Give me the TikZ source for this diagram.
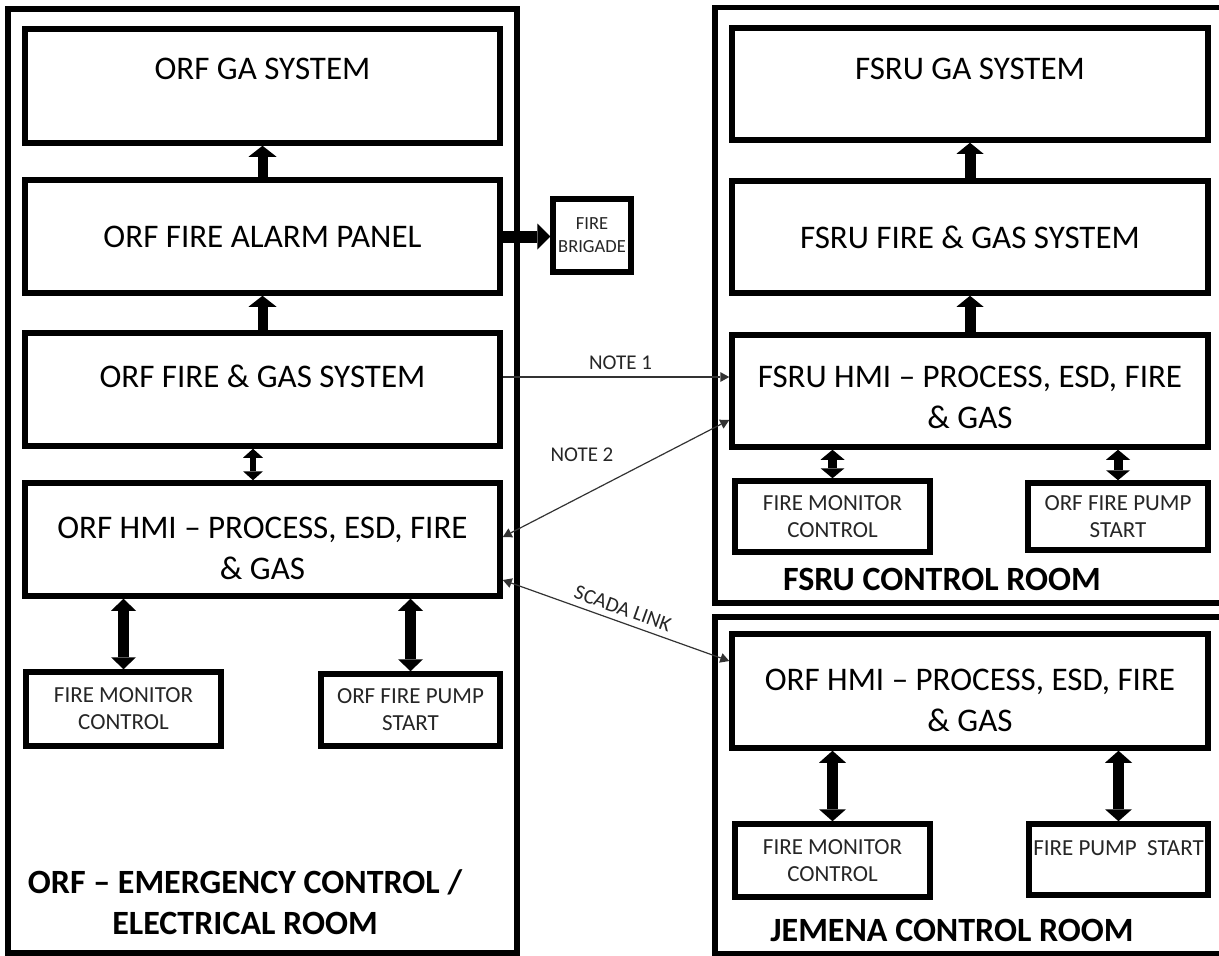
\documentclass[tikz,border=0pt]{standalone}
\usepackage{fontspec}
\setmainfont{Carlito}
\usetikzlibrary{arrows.meta,calc}
\begin{document}
\begin{tikzpicture}[x=1pt,y=-1pt,
  wh/.style 2 args={minimum width=#1pt, minimum height=#2pt},
  roombox/.style={draw, line width=5.5pt, inner sep=0pt},
  sysbox/.style={draw, line width=5.5pt, inner sep=0pt, align=center, font=\fontsize{33}{41}\selectfont},
  smallbox/.style={draw, line width=5.5pt, inner sep=0pt, align=center, text=black!85, font=\fontsize{23}{27}\selectfont},
  fbbox/.style={draw, line width=5.5pt, inner sep=0pt, align=center, text=black!85, font=\fontsize{18.5}{23}\selectfont},
  liftup/.style={text height=21.3pt, text depth=#1},
  liftsmall/.style={text height=14.8pt, text depth=#1},
  titletext/.style={inner sep=0pt, align=center, font=\fontsize{34}{41}\selectfont\bfseries},
  notetext/.style={inner sep=0pt, text=black!85, font=\fontsize{21}{25}\selectfont},
  blockup/.style n args={3}{line width=#1pt, -{Triangle[width=#2pt 0, length=#3pt 0, line width=0pt]}},
  blockdbl/.style n args={3}{line width=#1pt, {Triangle[width=#2pt 0, length=#3pt 0, line width=0pt]}-{Triangle[width=#2pt 0, length=#3pt 0, line width=0pt]}},
  thinlink/.style={line width=1.2pt, draw=black!80, >={Triangle[width=10pt 0, length=9pt 0, line width=0pt]}}
]
\clip (0,0) rectangle (1219,956);
\fill[white] (0,0) rectangle (1219,956);

% rooms
\node[roombox, wh={509}{944}] (roomL) at (262.5,481) {};
\node[roombox, wh={525}{595.5}] (roomF) at (977.5,305.25) {};
\node[roombox, wh={525}{337}] (roomJ) at (977.5,785.5) {};

% left column
\node[sysbox, wh={475}{114}, liftup=34pt] (gaL) at (262.5,86) {ORF GA SYSTEM};
\node[sysbox, wh={475}{113}] (fapL) at (262.5,236.5) {ORF FIRE ALARM PANEL};
\node[sysbox, wh={475}{113}, liftup=25pt] (fgL) at (262.5,389.5) {ORF FIRE \& GAS SYSTEM};
\node[sysbox, wh={475}{113}] (hmiL) at (262.5,539.5) {\rule{0pt}{40pt}ORF HMI – PROCESS, ESD, FIRE\\\& GAS};
\node[smallbox, wh={195}{74}] (fmcL) at (123.5,709) {FIRE MONITOR\\CONTROL};
\node[smallbox, wh={179}{72}] (fpsL) at (410.5,710) {ORF FIRE PUMP\\START};
\node[titletext] (titleL) at (245,902) {ORF – EMERGENCY CONTROL /\\ELECTRICAL ROOM};

\node[fbbox, wh={78}{73}] (fb) at (592,235.5) {FIRE\\BRIGADE};

% FSRU column
\node[sysbox, wh={476}{112}, liftup=30pt] (gaF) at (970,84) {FSRU GA SYSTEM};
\node[sysbox, wh={476}{112}] (fgF) at (970,237) {FSRU FIRE \& GAS SYSTEM};
\node[sysbox, wh={476}{112}] (hmiF) at (970,391) {\rule{0pt}{35pt}FSRU HMI – PROCESS, ESD, FIRE\\\& GAS};
\node[smallbox, wh={195}{71}] (fmcF) at (832.5,516.5) {FIRE MONITOR\\CONTROL};
\node[smallbox, wh={180}{67}] (fpsF) at (1118,516.5) {ORF FIRE PUMP\\START};
\node[titletext] (titleF) at (942,579) {FSRU CONTROL ROOM};

% Jemena column
\node[sysbox, wh={476}{114}] (hmiJ) at (970,691) {\rule{0pt}{40pt}ORF HMI – PROCESS, ESD, FIRE\\\& GAS};
\node[smallbox, wh={195}{73}] (fmcJ) at (832.5,860.5) {FIRE MONITOR\\CONTROL};
\node[smallbox, wh={179}{71}, liftsmall=23pt] (fpsJ) at (1118.5,859.5) {FIRE PUMP\ \ START};
\node[titletext] (titleJ) at (952,930) {JEMENA CONTROL ROOM};

% block arrows, left
\draw[blockup={10}{28}{11}] (fapL.north) -- (gaL.south);
\draw[blockup={10}{28}{11}] (fgL.north) -- (fapL.south);
\draw[blockdbl={6}{20}{9}] ([xshift=-9.5pt]fgL.south) -- ([xshift=-9.5pt]hmiL.north);
\draw[blockdbl={11}{25}{12}] (fmcL.north |- hmiL.south) -- (fmcL.north);
\draw[blockdbl={11}{25}{12}] (fpsL.north |- hmiL.south) -- (fpsL.north);
\draw[blockup={12}{26}{13}] (fapL.east) -- (fapL.east -| fb.west);

% block arrows, FSRU
\draw[blockup={11}{27}{11}] (fgF.north) -- (gaF.south);
\draw[blockup={11}{27}{11}] (hmiF.north) -- (fgF.south);
\draw[blockdbl={9}{24}{10}] (fmcF.north |- hmiF.south) -- (fmcF.north);
\draw[blockdbl={9}{24}{10}] (fpsF.north |- hmiF.south) -- (fpsF.north);

% block arrows, Jemena
\draw[blockdbl={11}{27}{12}] (fmcJ.north |- hmiJ.south) -- (fmcJ.north);
\draw[blockdbl={11}{27}{12}] (fpsJ.north |- hmiJ.south) -- (fpsJ.north);

% thin links
\draw[thinlink, ->] ([yshift=12.5pt]fgL.east) -- ([yshift=12.5pt]fgL.east -| hmiF.west)
  node[notetext, pos=0.52, above=7pt] (note1) {NOTE 1};
\draw[thinlink, <->] ([yshift=-29pt]hmiF.west) -- ([yshift=2.5pt]hmiL.east);
\node[notetext] (note2) at (582,455) {NOTE 2};
\draw[thinlink, <->] ([yshift=-40.5pt]hmiL.east) -- ([yshift=30pt]hmiJ.west)
  node[notetext, pos=0.51, sloped, above=6pt] (scada) {SCADA LINK};
\end{tikzpicture}
\end{document}
